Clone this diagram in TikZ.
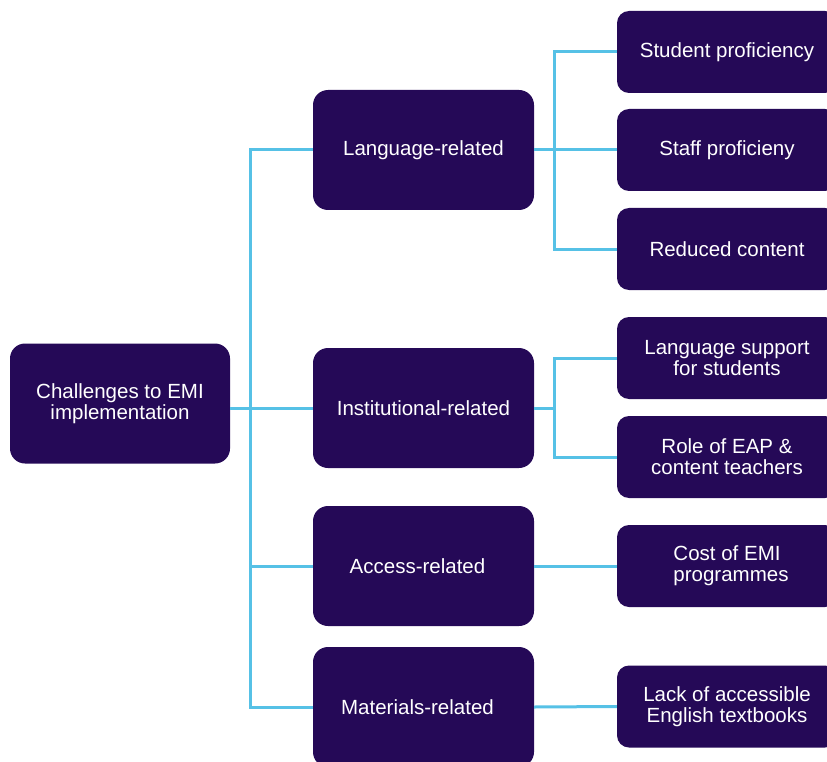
\documentclass[tikz,border=0pt]{standalone}
\usepackage{fontspec}
\setmainfont{Liberation Sans}
\definecolor{boxfill}{HTML}{250957}
\definecolor{linkblue}{HTML}{56C1E6}
\tikzset{
  topicbox/.style={fill=boxfill, text=white, rounded corners=15pt,
    minimum width=221pt, minimum height=120pt, align=center,
    inner sep=0pt, font=\fontsize{20.5}{21}\selectfont},
  itembox/.style={topicbox, rounded corners=12pt, minimum width=220pt,
    minimum height=82pt},
  link/.style={draw=linkblue, line width=3pt}
}
\begin{document}
\begin{tikzpicture}[x=1pt,y=-1pt]
\useasboundingbox (0,0) rectangle (827,762);
\clip (0,0) rectangle (827,762);
% Root
\node[topicbox, minimum width=220pt] (root) at (120,403.5) {Challenges to EMI\\implementation};
% Categories
\node[topicbox] (lang) at (423.5,150) {Language-related};
\node[topicbox] (inst) at (423.5,408) {Institutional-related};
\node[topicbox] (acc)  at (423.5,566) {\hspace*{-12pt}Access-related};
\node[topicbox] (mat)  at (423.5,707) {\hspace*{-12pt}Materials-related};
% Items
\node[itembox] (stud) at (727,52)  {Student proficiency};
\node[itembox] (staff) at (727,150) {Staff proficieny};
\node[itembox] (red)  at (727,249) {Reduced content};
\node[itembox] (sup)  at (727,358) {Language support\\for students};
\node[itembox] (eap)  at (727,457) {Role of EAP \&\\content teachers};
\node[itembox] (cost) at (727,566) {Cost of EMI\\programmes\hspace*{-8pt}};
\node[itembox] (lack) at (727,706.5) {Lack of accessible\\English textbooks};
% Trunk
\coordinate (trunk) at (250,408);
\draw[link] (root.east |- trunk) -- (inst.west);
\draw[link] (lang.west) -| (trunk) |- (mat.west);
\draw[link] (trunk |- acc) -- (acc.west);
% Language branch
\coordinate (lfork) at (554,150);
\draw[link] (lang.east) -- (staff.west);
\draw[link] (stud.west) -| (lfork) |- (red.west);
% Institutional branch
\coordinate (ifork) at (554,408);
\draw[link] (inst.east) -- (ifork);
\draw[link] (sup.west) -| (ifork) |- (eap.west);
% Single links
\draw[link] (acc.east) -- (cost.west);
\draw[link] (mat.east) -- (lack.west);
\end{tikzpicture}
\end{document}
